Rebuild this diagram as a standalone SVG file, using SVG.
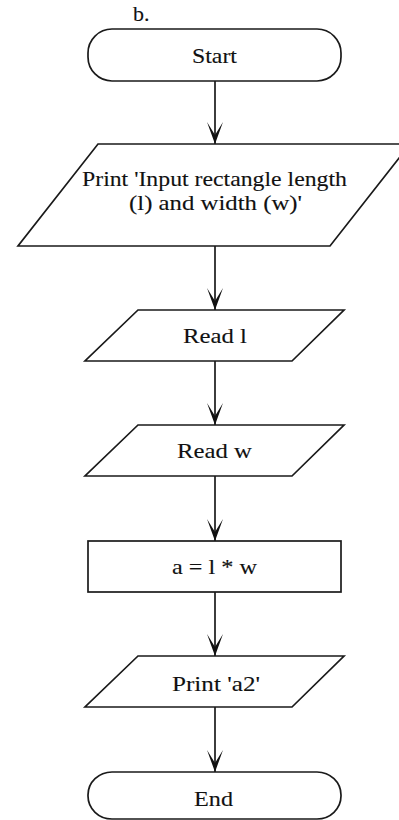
<svg xmlns="http://www.w3.org/2000/svg" width="399" height="820" viewBox="0 0 399 820">
<defs>
<style>
.s{fill:#fff;stroke:#1a1a1a;stroke-width:1.7}
.t{font-family:"Liberation Serif","Times New Roman",serif;font-size:22px;fill:#111;stroke:#111;stroke-width:0.12}
.c{stroke:#1a1a1a;stroke-width:1.7;fill:none}
</style>
<marker id="a" viewBox="-24 -9 25 18" markerWidth="25" markerHeight="18" refX="0" refY="0" orient="auto" markerUnits="userSpaceOnUse">
<path d="M0,0 L-22,-8 L-9,0 L-22,8 Z" fill="#111"/>
</marker>
</defs>
<rect width="399" height="820" fill="#fff"/>
<text class="t" x="133" y="21" font-size="19">b.</text>
<g id="connectors">
<line class="c" x1="215" y1="81" x2="215" y2="144" marker-end="url(#a)"/>
<line class="c" x1="215" y1="246" x2="215" y2="310" marker-end="url(#a)"/>
<line class="c" x1="215" y1="361" x2="215" y2="425" marker-end="url(#a)"/>
<line class="c" x1="215" y1="476" x2="215" y2="541" marker-end="url(#a)"/>
<line class="c" x1="215" y1="592" x2="215" y2="656" marker-end="url(#a)"/>
<line class="c" x1="215" y1="707" x2="215" y2="772" marker-end="url(#a)"/>
</g>
<g id="start">
<rect class="s" x="88" y="29" width="253" height="52" rx="24" ry="24"/>
<text class="t" x="192" y="63" textLength="45" lengthAdjust="spacingAndGlyphs">Start</text>
</g>
<g id="print-input">
<polygon class="s" points="98,144 410,144 330,246 18,246"/>
<text class="t" x="82" y="186" font-size="18.5" textLength="265" lengthAdjust="spacingAndGlyphs">Print 'Input rectangle length</text>
<text class="t" x="129" y="210" font-size="18.5" textLength="173" lengthAdjust="spacingAndGlyphs">(l) and width (w)'</text>
</g>
<g id="read-l">
<polygon class="s" points="138,310 344,310 292,361 85,361"/>
<text class="t" x="183" y="343" font-size="23" textLength="64" lengthAdjust="spacingAndGlyphs">Read l</text>
</g>
<g id="read-w">
<polygon class="s" points="138,425 344,425 292,476 85,476"/>
<text class="t" x="177" y="458" font-size="23" textLength="75" lengthAdjust="spacingAndGlyphs">Read w</text>
</g>
<g id="calc">
<rect class="s" x="88" y="541" width="253" height="51"/>
<text class="t" x="172" y="574" textLength="85" lengthAdjust="spacingAndGlyphs">a = l * w</text>
</g>
<g id="print-a2">
<polygon class="s" points="138,656 344,656 292,707 85,707"/>
<text class="t" x="172" y="691" textLength="88" lengthAdjust="spacingAndGlyphs">Print 'a2'</text>
</g>
<g id="end">
<rect class="s" x="88" y="772" width="253" height="47" rx="24" ry="23"/>
<text class="t" x="194" y="806" textLength="39" lengthAdjust="spacingAndGlyphs">End</text>
</g>
</svg>
